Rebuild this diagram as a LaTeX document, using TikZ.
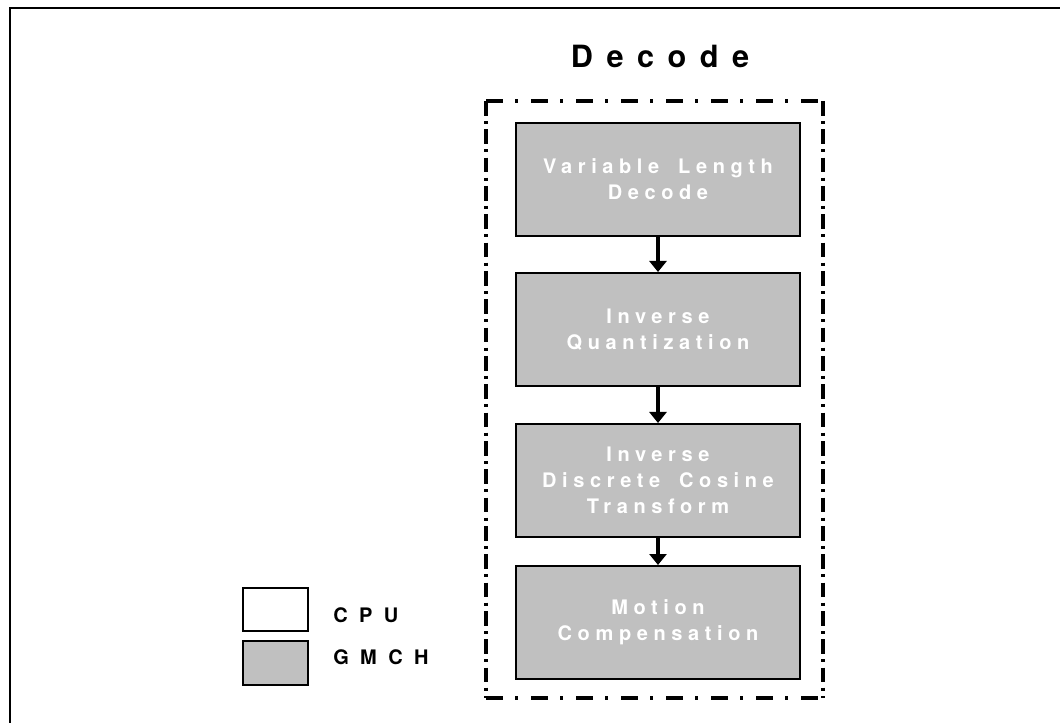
\documentclass[tikz,border=0pt]{standalone}
\usepackage{fontspec}
\usetikzlibrary{arrows.meta}
\setmainfont{TeX Gyre Heros}
\newfontfamily\stagefont[LetterSpace=28, WordSpace=1.7]{TeX Gyre Heros}
\newfontfamily\legendfont[LetterSpace=57]{TeX Gyre Heros}
\newfontfamily\titlefont[LetterSpace=44]{TeX Gyre Heros}
\definecolor{stagegray}{HTML}{C0C0C0}

\tikzset{
  stagebox/.style={draw=black, line width=1.5pt, fill=stagegray,
    minimum width=213pt, minimum height=84.75pt, inner sep=0pt,
    align=center, text=white, font=\stagefont\bfseries\fontsize{15pt}{19.5pt}\selectfont},
  legendbox/.style={draw=black, line width=1.5pt,
    minimum width=48.75pt, minimum height=32.5pt, inner sep=0pt},
  legendtext/.style={anchor=west, inner sep=0pt,
    font=\legendfont\bfseries\fontsize{15pt}{18pt}\selectfont},
  flow/.style={line width=3pt, -{Triangle[width=12.75pt,length=8.25pt]}},
  hside/.style={line width=3.2pt, dash pattern=on 12.75pt off 9pt on 2.5pt off 9.5pt},
  vside/.style={line width=3.2pt, dash pattern=on 11pt off 4pt on 2.25pt off 4pt},
}

\begin{document}
\begin{tikzpicture}[x=0.75pt, y=-0.75pt]
  \useasboundingbox (0,0) rectangle (1060,723);

  % outer frame (top and left edges)
  \coordinate (frameTL) at (10,8);
  \coordinate (frameTR) at (1062,8);
  \coordinate (frameBL) at (10,725);
  \draw[line width=2pt] (frameTR) -- (frameTL) -- (frameBL);

  % title
  \node[font=\titlefont\bfseries\fontsize{23pt}{27pt}\selectfont, inner sep=0pt] (title) at (660,56) {Decode};

  % dash-dot enclosure
  \coordinate (encTL) at (486,101);
  \coordinate (encTR) at (823,101);
  \coordinate (encBL) at (486,698);
  \coordinate (encBR) at (823,698);
  \draw[hside] (encTL) -- (encTR);
  \draw[hside] (encBL) -- (encBR);
  \draw[vside] (encTL) -- (encBL);
  \draw[vside] (encTR) -- (encBR);

  % decoding stages
  \node[stagebox] (vld)  at (658,179.5) {Variable Length\\Decode};
  \node[stagebox] (iq)   at (658,329.5) {Inverse\\Quantization};
  \node[stagebox] (idct) at (658,480.5) {Inverse\\Discrete Cosine\\Transform};
  \node[stagebox] (mc)   at (658,622.5) {Motion\\Compensation};

  \draw[flow] (vld.south) -- (iq.north);
  \draw[flow] (iq.south) -- (idct.north);
  \draw[flow] (idct.south) -- (mc.north);

  % legend
  \node[legendbox, fill=white] (cpubox) at (275.5,609.5) {};
  \node[legendbox, fill=stagegray] (gmchbox) at (275.5,663) {};
  \node[legendtext] (cpulabel) at (333,615) {CPU};
  \node[legendtext] (gmchlabel) at (333,657) {GMCH};
\end{tikzpicture}
\end{document}
